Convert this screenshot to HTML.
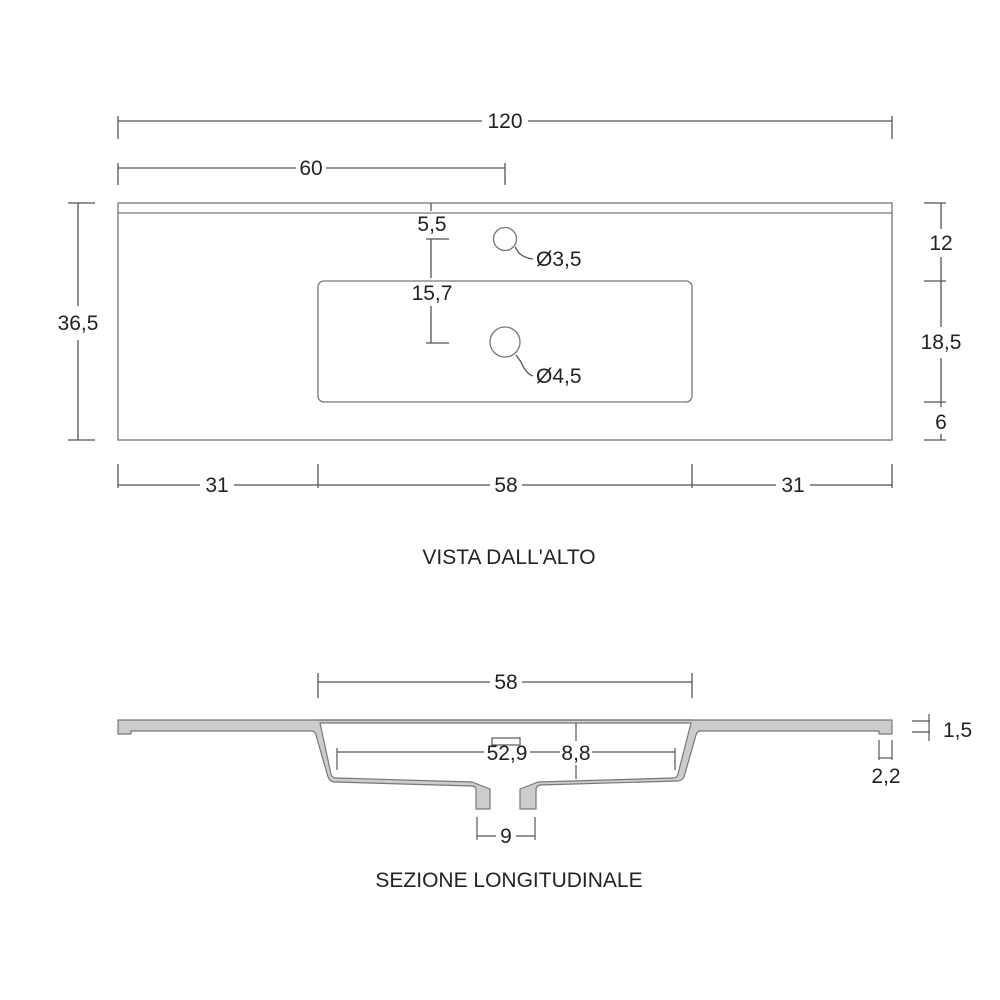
<!DOCTYPE html>
<html><head><meta charset="utf-8"><style>
html,body{margin:0;padding:0;background:#fff}
svg{display:block}
text{font-family:"Liberation Sans",sans-serif;fill:#222;font-size:21px}
</style></head><body>
<svg width="1000" height="1000" viewBox="0 0 1000 1000" xmlns="http://www.w3.org/2000/svg">
<g stroke="#555" stroke-width="1.3" fill="none">
<line x1="118" y1="116" x2="118" y2="139"/><line x1="892" y1="116" x2="892" y2="139"/>
<line x1="118" y1="121" x2="482" y2="121"/><line x1="528" y1="121" x2="892" y2="121"/>
<line x1="118" y1="163" x2="118" y2="185"/><line x1="505" y1="163" x2="505" y2="185"/>
<line x1="118" y1="168" x2="296" y2="168"/><line x1="326" y1="168" x2="505" y2="168"/>
<rect x="118" y="203" width="774" height="237" stroke="#777"/>
<line x1="118" y1="213" x2="892" y2="213" stroke="#777"/>
<rect x="318" y="281" width="374" height="121" rx="6" stroke="#777"/>
<circle cx="505" cy="239" r="11.5" stroke="#777"/>
<circle cx="505" cy="342" r="15" stroke="#777"/>
<path d="M515 247 L519 253 Q524 258 533 259"/>
<path d="M516 355 L521 362 Q526 374 533 376"/>
<line x1="431" y1="203" x2="431" y2="211"/>
<line x1="431" y1="239" x2="431" y2="278"/><line x1="431" y1="306" x2="431" y2="343"/>
<line x1="426" y1="239" x2="449" y2="239"/><line x1="426" y1="343" x2="449" y2="343"/>
<line x1="68" y1="203" x2="95" y2="203"/><line x1="68" y1="440" x2="95" y2="440"/>
<line x1="78" y1="203" x2="78" y2="306"/><line x1="78" y1="340" x2="78" y2="440"/>
<line x1="924" y1="203" x2="946" y2="203"/><line x1="924" y1="281" x2="946" y2="281"/>
<line x1="924" y1="402" x2="946" y2="402"/><line x1="924" y1="440" x2="946" y2="440"/>
<line x1="941" y1="203" x2="941" y2="229"/><line x1="941" y1="257" x2="941" y2="281"/>
<line x1="941" y1="281" x2="941" y2="327"/><line x1="941" y1="358" x2="941" y2="402"/>
<line x1="941" y1="402" x2="941" y2="407"/><line x1="941" y1="434" x2="941" y2="440"/>
<line x1="118" y1="464" x2="118" y2="488"/><line x1="318" y1="464" x2="318" y2="488"/>
<line x1="692" y1="464" x2="692" y2="488"/><line x1="892" y1="464" x2="892" y2="488"/>
<line x1="118" y1="485" x2="200" y2="485"/><line x1="234" y1="485" x2="318" y2="485"/>
<line x1="318" y1="485" x2="490" y2="485"/><line x1="522" y1="485" x2="692" y2="485"/>
<line x1="692" y1="485" x2="776" y2="485"/><line x1="810" y1="485" x2="892" y2="485"/>
<line x1="318" y1="673" x2="318" y2="698"/><line x1="692" y1="673" x2="692" y2="698"/>
<line x1="318" y1="682" x2="490" y2="682"/><line x1="522" y1="682" x2="692" y2="682"/>
</g>
<path d="M118 720 L892 720 L892 734 L879 734 L879 731 L700 731 Q697 731 696 735 L684 777 Q682 781 677 781 L540 785 Q536 786 536 790 L536 809 L520 809 L520 789 L538 782 L673 778 Q677 778 678 774 L691 723 L320 723 L331 774 Q332 778 337 778 L472 782 L490 789 L490 809 L476 809 L476 790 Q476 786 472 786 L335 782 Q330 782 328 777 L316 735 Q315 731 311 731 L131 731 L131 734 L118 734 Z" fill="#ccc" stroke="#777" stroke-width="1.2" stroke-linejoin="round"/>
<line x1="318" y1="720" x2="692" y2="720" stroke="#777" stroke-width="1.2"/>
<g stroke="#555" stroke-width="1.2" fill="none">
<line x1="337" y1="748" x2="337" y2="770"/><line x1="675" y1="748" x2="675" y2="770"/>
<line x1="337" y1="752" x2="484" y2="752"/><line x1="530" y1="752" x2="560" y2="752"/><line x1="592" y1="752" x2="675" y2="752"/>
<rect x="492" y="738" width="28" height="7"/>
<line x1="576" y1="723" x2="576" y2="741"/><line x1="576" y1="765" x2="576" y2="779"/>
<line x1="477" y1="817" x2="477" y2="840"/><line x1="535" y1="817" x2="535" y2="840"/>
<line x1="477" y1="836" x2="496" y2="836"/><line x1="516" y1="836" x2="535" y2="836"/>
<line x1="879" y1="740" x2="879" y2="760"/><line x1="892" y1="740" x2="892" y2="760"/>
<line x1="879" y1="758" x2="892" y2="758"/>
<line x1="912" y1="721" x2="930" y2="721"/><line x1="912" y1="732" x2="930" y2="732"/>
<line x1="929" y1="714" x2="929" y2="741"/>
</g>
<text x="505" y="128" text-anchor="middle">120</text>
<text x="311" y="175" text-anchor="middle">60</text>
<text x="432" y="231" text-anchor="middle">5,5</text>
<text x="432" y="300" text-anchor="middle">15,7</text>
<text x="536" y="266">Ø3,5</text>
<text x="536" y="383">Ø4,5</text>
<text x="78" y="330" text-anchor="middle">36,5</text>
<text x="941" y="250" text-anchor="middle">12</text>
<text x="941" y="349" text-anchor="middle">18,5</text>
<text x="941" y="429" text-anchor="middle">6</text>
<text x="217" y="492" text-anchor="middle">31</text>
<text x="506" y="492" text-anchor="middle">58</text>
<text x="793" y="492" text-anchor="middle">31</text>
<text x="509" y="564" text-anchor="middle">VISTA DALL'ALTO</text>
<text x="506" y="689" text-anchor="middle">58</text>
<text x="507" y="760" text-anchor="middle">52,9</text>
<text x="576" y="760" text-anchor="middle">8,8</text>
<text x="506" y="843" text-anchor="middle">9</text>
<text x="943" y="737">1,5</text>
<text x="886" y="783" text-anchor="middle">2,2</text>
<text x="509" y="887" text-anchor="middle">SEZIONE LONGITUDINALE</text>
</svg>
</body></html>
